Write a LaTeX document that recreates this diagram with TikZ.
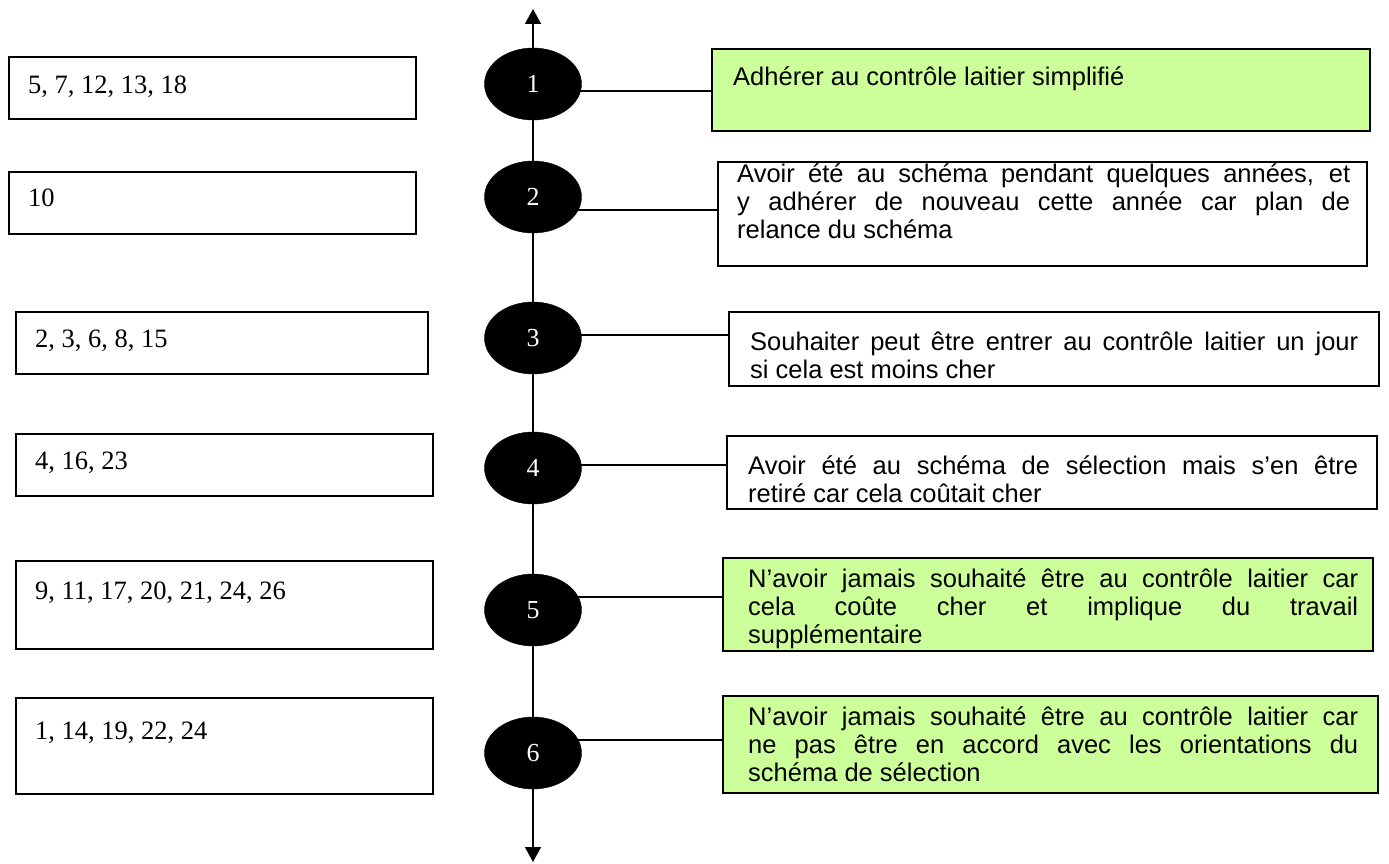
\documentclass[tikz,border=0pt]{standalone}
\usepackage{fontspec}
\setmainfont{Liberation Serif}
\newfontfamily\arial{Liberation Sans}
\usetikzlibrary{arrows.meta,shapes.geometric}
\definecolor{lgreen}{HTML}{CCFF99}
\begin{document}
\begin{tikzpicture}[x=1pt,y=-1pt,
  box/.style={draw, line width=1.6pt, inner sep=0pt, anchor=north west, fill=white},
  gbox/.style={box, fill=lgreen},
  oval/.style={ellipse, fill=black, draw=black, minimum width=97pt, minimum height=72pt, inner sep=0pt, text=white, font=\fontsize{26}{28}\selectfont},
  ltext/.style={anchor=base west, inner sep=0pt, font=\fontsize{26.5}{28}\selectfont},
  rtext/.style={anchor=north west, inner sep=0pt, align=justify, font=\arial\fontsize{25.5}{28}\selectfont},
  link/.style={line width=1.6pt}]
\useasboundingbox (0,0) rectangle (1389,864);
\hyphenpenalty=10000
% axis
\coordinate (top) at (533,9);
\coordinate (bot) at (533,862);
\draw[link, {Triangle[length=15pt,width=16pt]}-{Triangle[length=15pt,width=16pt]}] (top) -- (bot);
% left boxes
\node[box, minimum width=407pt, minimum height=62pt] (l1) at (8,56) {};
\node[box, minimum width=407pt, minimum height=62pt] (l2) at (8,171) {};
\node[box, minimum width=412pt, minimum height=62pt] (l3) at (15,311) {};
\node[box, minimum width=417pt, minimum height=62pt] (l4) at (15,433) {};
\node[box, minimum width=417pt, minimum height=88pt] (l5) at (15,560) {};
\node[box, minimum width=417pt, minimum height=96pt] (l6) at (15,697) {};
\node[ltext] (n1) at (28,94) {5, 7, 12, 13, 18};
\node[ltext] (n2) at (28,206) {10};
\node[ltext] (n3) at (35,347) {2, 3, 6, 8, 15};
\node[ltext] (n4) at (35,469) {4, 16, 23};
\node[ltext] (n5) at (35,599) {9, 11, 17, 20, 21, 24, 26};
\node[ltext] (n6) at (35,739) {1, 14, 19, 22, 24};
% right boxes
\node[gbox, minimum width=658pt, minimum height=82pt] (b1) at (711,48) {};
\node[box, minimum width=649pt, minimum height=104pt] (b2) at (717,161) {};
\node[box, minimum width=650pt, minimum height=74pt] (b3) at (728,311) {};
\node[box, minimum width=650pt, minimum height=73pt] (b4) at (726,435) {};
\node[gbox, minimum width=650pt, minimum height=93pt] (b5) at (722,557) {};
\node[gbox, minimum width=655pt, minimum height=97pt] (b6) at (722,695) {};
% connectors
\draw[link] (533,91) -- (b1.west |- 0,91);
\draw[link] (533,210) -- (b2.west |- 0,210);
\draw[link] (533,335) -- (b3.west |- 0,335);
\draw[link] (533,465) -- (b4.west |- 0,465);
\draw[link] (533,597) -- (b5.west |- 0,597);
\draw[link] (533,740) -- (b6.west |- 0,740);
% ovals
\node[oval] (e1) at (533,84) {1};
\node[oval] (e2) at (533,197) {2};
\node[oval] (e3) at (533,338) {3};
\node[oval] (e4) at (533,468) {4};
\node[oval] (e5) at (533,610) {5};
\node[oval] (e6) at (533,753) {6};
% right texts
\node[rtext] (t1) at (733,66) {\strut Adhérer au contrôle laitier simplifié};
\node[rtext, text width=613pt] (t2) at (737,163) {\strut Avoir été au schéma pendant quelques années, et\linebreak y adhérer de nouveau cette année car plan de\linebreak relance du schéma};
\node[rtext, text width=608pt] (t3) at (750,331) {\strut Souhaiter peut être entrer au contrôle laitier un jour\linebreak si cela est moins cher};
\node[rtext, text width=610pt] (t4) at (748,455) {\strut Avoir été au schéma de sélection mais s’en être\linebreak retiré car cela coûtait cher};
\node[rtext, text width=610pt] (t5) at (748,568) {\strut N’avoir jamais souhaité être au contrôle laitier car\linebreak cela coûte cher et implique du travail\linebreak supplémentaire};
\node[rtext, text width=610pt] (t6) at (748,706) {\strut N’avoir jamais souhaité être au contrôle laitier car\linebreak ne pas être en accord avec les orientations du\linebreak schéma de sélection};
\end{tikzpicture}
\end{document}
